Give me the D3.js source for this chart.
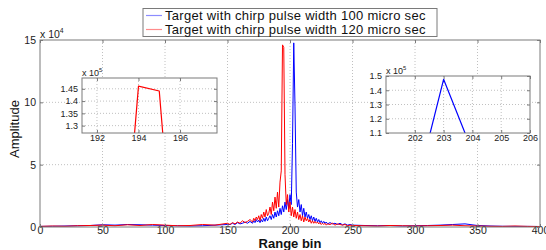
<!DOCTYPE html>
<html>
<head>
<meta charset="utf-8">
<script src="https://cdn.jsdelivr.net/npm/d3@7"></script>
<style>
  body { margin: 0; background: #fff; }
  svg { display: block; font-family: "Liberation Sans", Arial, sans-serif; }
</style>
</head>
<body>
<div id="chart"></div>
<script>
// ============= Data (amplitudes in units of 1e4) =============

const bins = [
  0, 10, 20, 30, 40, 50, 60, 70, 80, 90, 100, 110, 120, 130, 140, 150,
  152, 154, 156, 158, 160, 162, 164, 166, 168,
  170, 171, 172, 173, 174, 175, 176, 177, 178, 179,
  180, 181, 182, 183, 184, 185, 186, 187, 188, 189,
  190, 191, 192, 193, 194, 195, 196, 197, 198, 199,
  200, 201, 202, 203, 204, 205, 206, 207, 208, 209,
  210, 211, 212, 213, 214, 215, 216, 217, 218, 219,
  220, 221, 222, 223, 224, 225, 226, 227, 228, 229, 230,
  232, 234, 236, 238, 240, 242, 244, 246, 248, 250,
  260, 270, 280, 290, 300, 310, 320, 330, 340, 350, 360, 370, 380, 390, 400
];

const blue100 = [
  0.05, 0.06, 0.08, 0.1, 0.12, 0.18, 0.15, 0.2, 0.18, 0.15, 0.12, 0.1, 0.08, 0.1, 0.15, 0.2,
  0.2, 0.3, 0.2, 0.35, 0.25, 0.3, 0.4, 0.3, 0.45,
  0.3, 0.5, 0.35, 0.6, 0.4, 0.55, 0.35, 0.6, 0.4, 0.7,
  0.45, 0.8, 0.5, 0.7, 0.9, 0.6, 1.0, 0.7, 1.2, 0.8,
  1.3, 0.9, 1.5, 1.0, 1.7, 1.2, 2.0, 1.4, 2.2, 1.5,
  2.6, 1.8, 6.7, 14.77, 9.7, 2.8, 1.6, 2.2, 1.2, 1.8,
  0.9, 1.5, 0.8, 1.2, 0.7, 1.0, 0.6, 0.9, 0.5, 0.8,
  0.45, 0.7, 0.4, 0.6, 0.35, 0.5, 0.3, 0.45, 0.3, 0.4, 0.25,
  0.35, 0.25, 0.3, 0.2, 0.3, 0.18, 0.25, 0.15, 0.2, 0.15,
  0.12, 0.1, 0.12, 0.08, 0.1, 0.12, 0.15, 0.2, 0.25, 0.12, 0.08, 0.06, 0.05, 0.05, 0.04
];

const red120 = [
  0.05, 0.08, 0.06, 0.1, 0.12, 0.15, 0.1, 0.18, 0.12, 0.2, 0.15, 0.1, 0.12, 0.2, 0.15, 0.3,
  0.2, 0.35, 0.25, 0.4, 0.3, 0.5, 0.35, 0.45, 0.6,
  0.4, 0.7, 0.5, 0.8, 0.6, 0.9, 0.5, 1.0, 0.7, 1.2,
  0.8, 1.4, 0.9, 1.1, 1.6, 1.0, 2.0, 1.3, 2.4, 1.5,
  2.8, 1.6, 3.6, 4.5, 14.61, 14.41, 4.2, 1.8, 2.6, 1.2,
  2.0, 0.9, 1.6, 0.8, 1.4, 0.7, 1.2, 0.6, 1.0, 0.5,
  0.9, 0.4, 0.8, 0.5, 0.7, 0.4, 0.6, 0.3, 0.5, 0.3,
  0.45, 0.3, 0.4, 0.25, 0.35, 0.2, 0.3, 0.2, 0.3, 0.15, 0.25,
  0.2, 0.3, 0.15, 0.25, 0.2, 0.15, 0.2, 0.1, 0.15, 0.12,
  0.1, 0.08, 0.12, 0.1, 0.08, 0.1, 0.12, 0.15, 0.1, 0.08, 0.06, 0.05, 0.08, 0.05, 0.04
];

const seriesNames = [
  "Target with chirp pulse width 100 micro sec",
  "Target with chirp pulse width 120 micro sec"
];
const seriesColors = ["#0000ff", "#ff0000"];
const legendColors = ["#8c8cff", "#ff8c8c"];

const mainXTicks = [0, 50, 100, 150, 200, 250, 300, 350, 400];
const mainYTicks = [0, 5, 10, 15];
const inset1XTicks = [192, 194, 196];
const inset1YTicks = [1.3, 1.35, 1.4, 1.45];
const inset2XTicks = [202, 203, 204, 205, 206];
const inset2YTicks = [1.1, 1.2, 1.3, 1.4, 1.5];

const series = [blue100, red120].map(vals => bins.map((b, i) => ({ bin: b, amp: vals[i] * 1e4 })));

// ============= Setup =============

const width = 546;
const height = 250;
const boxColor = "#7a7a7a";
const gridColor = "#b0b0b0";

const svg = d3.select("#chart")
  .append("svg")
  .attr("width", width)
  .attr("height", height);

const defs = svg.append("defs");

// draws one MATLAB-style axes box with grid, ticks and the two line series
function drawAxes(opts) {
  const { id, left, right, top, bottom, xDomain, yDomain, yScaleFactor,
          xTicks, yTicks, fontSize, lineWidth, expText, expY, pad } = opts;

  const x = d3.scaleLinear().domain(xDomain).range([left, right]);
  const y = d3.scaleLinear().domain(yDomain.map(v => v * yScaleFactor)).range([bottom, top]);
  const yAxisScale = d3.scaleLinear().domain(yDomain).range([bottom, top]);

  const g = svg.append("g");

  g.append("rect")
    .attr("x", left).attr("y", top)
    .attr("width", right - left).attr("height", bottom - top)
    .attr("fill", "#fff");

  // grid
  g.append("g").selectAll("line")
    .data(xTicks.filter(t => t > xDomain[0] && t < xDomain[1]))
    .join("line")
    .attr("x1", d => x(d)).attr("x2", d => x(d))
    .attr("y1", top).attr("y2", bottom)
    .attr("stroke", gridColor).attr("stroke-dasharray", "1,2").attr("stroke-width", 0.8);

  g.append("g").selectAll("line")
    .data(yTicks.filter(t => t > yDomain[0] && t < yDomain[1]))
    .join("line")
    .attr("x1", left).attr("x2", right)
    .attr("y1", d => yAxisScale(d)).attr("y2", d => yAxisScale(d))
    .attr("stroke", gridColor).attr("stroke-dasharray", "1,2").attr("stroke-width", 0.8);

  // data
  defs.append("clipPath").attr("id", id)
    .append("rect")
    .attr("x", left).attr("y", top)
    .attr("width", right - left).attr("height", bottom - top);

  const line = d3.line().x(d => x(d.bin)).y(d => y(d.amp));

  g.append("g").attr("clip-path", `url(#${id})`)
    .selectAll("path")
    .data(series)
    .join("path")
    .attr("d", line)
    .attr("fill", "none")
    .attr("stroke", (d, i) => seriesColors[i])
    .attr("stroke-width", lineWidth)
    .attr("stroke-linejoin", "round");

  // ticks (inside) on all four sides
  const bottomAxis = g.append("g")
    .attr("transform", `translate(0,${bottom})`)
    .call(d3.axisBottom(x).tickValues(xTicks).tickSize(-3).tickPadding(pad).tickFormat(d3.format("d")));
  const leftAxis = g.append("g")
    .attr("transform", `translate(${left},0)`)
    .call(d3.axisLeft(yAxisScale).tickValues(yTicks).tickSize(-3).tickPadding(4).tickFormat(d3.format("~g")));
  const topAxis = g.append("g")
    .attr("transform", `translate(0,${top})`)
    .call(d3.axisTop(x).tickValues(xTicks).tickSize(-3).tickFormat(""));
  const rightAxis = g.append("g")
    .attr("transform", `translate(${right},0)`)
    .call(d3.axisRight(yAxisScale).tickValues(yTicks).tickSize(-3).tickFormat(""));

  [bottomAxis, leftAxis, topAxis, rightAxis].forEach(a => {
    a.select(".domain").remove();
    a.selectAll("line").attr("stroke", boxColor);
    a.selectAll("text")
      .attr("fill", "#222")
      .style("font-size", fontSize + "px")
      .style("font-family", "'Liberation Sans', Arial, sans-serif");
  });

  g.append("rect")
    .attr("x", left).attr("y", top)
    .attr("width", right - left).attr("height", bottom - top)
    .attr("fill", "none")
    .attr("stroke", boxColor)
    .attr("stroke-width", 1);

  // exponent label
  const exp = g.append("text")
    .attr("x", left)
    .attr("y", expY)
    .attr("fill", "#222")
    .style("font-size", fontSize + "px")
    .text("x 10");
  exp.append("tspan")
    .attr("dy", -fontSize * 0.45)
    .style("font-size", (fontSize * 0.65) + "px")
    .text(expText);

  return g;
}

// ============= Main plot =============

drawAxes({
  id: "clip-main",
  left: 40, right: 540, top: 40, bottom: 227,
  xDomain: [0, 400], yDomain: [0, 15], yScaleFactor: 1e4,
  xTicks: mainXTicks, yTicks: mainYTicks,
  fontSize: 10.5, lineWidth: 1, pad: 0,
  expText: "4", expY: 38
});

svg.append("text")
  .attr("x", 290)
  .attr("y", 247.5)
  .attr("text-anchor", "middle")
  .style("font-size", "13px")
  .style("font-weight", "bold")
  .attr("fill", "#111")
  .text("Range bin");

svg.append("text")
  .attr("transform", "translate(19,129) rotate(-90)")
  .attr("text-anchor", "middle")
  .style("font-size", "13px")
  .attr("fill", "#111")
  .text("Amplitude");

// ============= Insets =============

drawAxes({
  id: "clip-inset1",
  left: 82, right: 217, top: 78, bottom: 133,
  xDomain: [191.28, 197.78], yDomain: [1.27, 1.494], yScaleFactor: 1e5,
  xTicks: inset1XTicks, yTicks: inset1YTicks,
  fontSize: 9, lineWidth: 1.2, pad: 2,
  expText: "5", expY: 76
});

drawAxes({
  id: "clip-inset2",
  left: 386, right: 530, top: 76, bottom: 133,
  xDomain: [201, 206], yDomain: [1.1, 1.5], yScaleFactor: 1e5,
  xTicks: inset2XTicks, yTicks: inset2YTicks,
  fontSize: 9, lineWidth: 1.2, pad: 2,
  expText: "5", expY: 74
});

// ============= Legend =============

const legend = svg.append("g");

legend.append("rect")
  .attr("x", 143).attr("y", 8.5)
  .attr("width", 294).attr("height", 28)
  .attr("fill", "#fff")
  .attr("stroke", boxColor);

const items = legend.selectAll("g.item")
  .data(seriesNames)
  .join("g")
  .attr("class", "item")
  .attr("transform", (d, i) => `translate(0,${15.5 + i * 14})`);

items.append("line")
  .attr("x1", 146).attr("x2", 162)
  .attr("stroke", (d, i) => legendColors[i])
  .attr("stroke-width", 1.2);

items.append("text")
  .attr("x", 165)
  .attr("dy", "0.35em")
  .style("font-size", "13px")
  .style("letter-spacing", "0.3px")
  .attr("fill", "#111")
  .text(d => d);
</script>
</body>
</html>
